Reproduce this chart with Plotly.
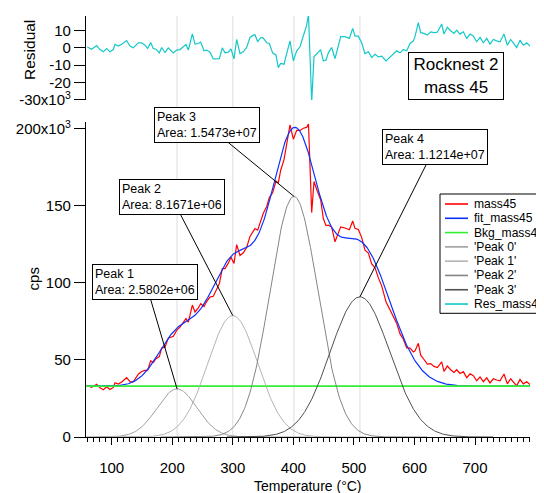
import numpy as np
import plotly.graph_objects as go

# ---------------- data (values in 10^3 cps) ----------------
res_temp = [59.8, 66.9, 75.2, 80.7, 86.2, 91.7, 97.2, 102.7, 105.5, 111.0, 116.5, 124.7, 130.2, 135.7,
            144.0, 149.5, 155.0, 159.4, 164.4, 168.7, 173.2, 178.7, 182.5, 188.0, 193.5, 199.0, 201.8,
            207.3, 212.8, 218.3, 222.7, 226.6, 233.2, 237.6, 243.1, 247.0, 252.5, 256.8, 262.3, 267.8,
            273.4, 277.8, 282.7, 287.1, 292.6, 297.0, 302.0, 306.4, 311.9, 317.4, 322.9, 328.4, 333.9,
            336.7, 341.1, 346.6, 350.4, 355.9, 360.3, 365.8, 371.4, 375.2, 379.1, 384.6, 389.0, 394.5,
            400.0, 405.5, 411.0, 416.5, 422.0, 425.0, 430.3, 434.1, 439.6, 445.1, 449.5, 453.9, 457.8,
            463.3, 468.8, 474.3, 478.2, 485.3, 492.5, 498.0, 501.8, 507.3, 512.8, 518.3, 523.9, 529.4,
            534.9, 540.4, 545.9, 553.0, 559.6, 565.1, 570.6, 576.2, 581.7, 587.2, 592.7, 598.2, 600.9,
            606.4, 610.3, 615.8, 621.3, 626.8, 632.3, 637.8, 645.0, 648.8, 654.3, 659.8, 665.3, 669.7,
            675.2, 680.7, 686.3, 691.8, 697.3, 702.8, 708.3, 713.8, 719.3, 724.8, 730.3, 735.8, 741.3,
            747.9, 753.4, 758.9, 763.3, 768.8, 774.3, 779.8, 785.3, 790.8]
res_val = [0.5, -0.8, 1.3, -1.0, -2.3, -0.4, -2.3, -1.0, 2.0, 1.0, 2.0, 4.2, 1.0, 0.0,
           2.9, 2.9, 1.5, -0.4, 3.0, -0.4, -0.8, -2.9, 0.2, -2.7, 0.0, -1.7, -2.9,
           -1.3, -1.0, 0.6, 1.9, -1.3, 8.0, 2.1, 2.5, 3.3, -1.7, -1.3, -2.5, -6.4,
           -6.5, -6.2, 0.0, -2.9, -2.5, -0.6, -6.4, 4.8, -3.3, -2.3, 0.2, 6.0, 7.3,
           7.5, 3.5, 6.0, 5.6, 2.9, 2.5, -2.9, -4.2, -11.4, -9.0, -9.4, -3.3, 4.0,
           -7.5, -1.7, 0.6, 6.4, 13.0, 19.0, -31.0, -5.2, -3.3, -1.0, -7.5, -7.1, -2.9,
           0.2, -6.2, 1.5, 6.4, 6.4, 5.4, 11.2, 6.7, 6.7, 2.9, -3.3, -2.3, -5.6,
           -3.7, -5.2, -4.8, -7.5, -5.2, -3.7, -1.7, -2.9, -1.0, -1.7, 2.5, 4.0, 6.4,
           14.5, 8.7, 8.3, 7.3, 9.2, 8.7, 9.0, 13.7, 7.9, 11.8, 9.8, 8.3, 10.2,
           7.9, 9.2, 5.4, 7.9, 6.7, 3.5, 6.0, 2.9, 5.4, 2.1, 4.8, 4.0, 3.5,
           7.9, 1.5, 4.8, 2.5, 0.2, 4.4, 1.5, 2.9, 1.0]

baseline = 33.0
peak_legend = ["'Peak 0'", "'Peak 1'", "'Peak 2'", "'Peak 3'"]
peak_labels = ["Peak 1", "Peak 2", "Peak 3", "Peak 4"]
peak_areas = ["2.5802e+06", "8.1671e+06", "1.5473e+07", "1.1214e+07"]
peak_centers = [208.0, 300.0, 401.0, 510.0]
peak_heights = [31.2, 78.8, 156.2, 91.0]
peak_sigmas = [33.0, 41.3, 39.5, 49.2]

x_range = [57.6, 790.8]
main_y_ticks = [0, 50, 100, 150, 200]
main_y_text = ["0", "50", "100", "150", "200x10<sup>3</sup>"]
res_y_ticks = [10, 0, -10, -20, -30]
res_y_text = ["10", "0", "-10", "-20", "-30x10<sup>3</sup>"]

# ---------------- styles ----------------
FONT = "Liberation Sans, Arial, sans-serif"
c_data, c_fit, c_bkg, c_res = "#ff0000", "#0a32ff", "#33ee33", "#12c8c8"
peak_colors = ["#a0a0a0", "#b4b4b4", "#858585", "#505050"]


def gauss(t, c, h, s):
    t = np.asarray(t, dtype=float)
    return h * np.exp(-(t - c) ** 2 / (2 * s ** 2))


def fit_model(t):
    t = np.asarray(t, dtype=float)
    tot = np.full_like(t, baseline)
    for c, h, s in zip(peak_centers, peak_heights, peak_sigmas):
        tot = tot + gauss(t, c, h, s)
    return tot


fit_t = np.linspace(x_range[0], x_range[1], 600)
mass45 = fit_model(res_temp) + np.array(res_val)

fig = go.Figure()
fig.add_trace(go.Scatter(x=res_temp, y=mass45, mode="lines", name="mass45",
                         line=dict(color=c_data, width=1.2), showlegend=False))
fig.add_trace(go.Scatter(x=fit_t, y=fit_model(fit_t), mode="lines", name="fit_mass45",
                         line=dict(color=c_fit, width=1.2), showlegend=False))
fig.add_trace(go.Scatter(x=x_range, y=[baseline, baseline], mode="lines", name="Bkg_mass45",
                         line=dict(color=c_bkg, width=1.6), showlegend=False))
for nm, c, h, s, col in zip(peak_legend, peak_centers, peak_heights, peak_sigmas, peak_colors):
    t = np.linspace(max(x_range[0], c - 220), min(x_range[1], c + 220), 300)
    fig.add_trace(go.Scatter(x=t, y=gauss(t, c, h, s), mode="lines", name=nm,
                             line=dict(color=col, width=1), showlegend=False))
fig.add_trace(go.Scatter(x=res_temp, y=res_val, mode="lines", name="Res_mass45",
                         line=dict(color=c_res, width=1.2), showlegend=False,
                         xaxis="x2", yaxis="y2"))

# ---------------- layout helpers ----------------
# the page body has an 8px margin, so the figure is drawn 8px right/down
OFF = 8
W, H = 544 - OFF, 493 - OFF
PL, PR, PT, PB = 86, 530, 16, 437          # plot area in reference (page) pixels
ML, MT = PL - OFF, PT - OFF
MR, MB = W - (PR - OFF), H - (PB - OFF)
PW, PH = PR - PL, PB - PT


def px(xp):
    return (xp - PL) / PW


def py(yp):
    return (PB - yp) / PH


shapes = []
for c in peak_centers:
    shapes.append(dict(type="line", xref="x", yref="paper", x0=c, x1=c, y0=0, y1=1,
                       line=dict(color="#dcdcdc", width=1), layer="below"))

annotations = []
# peak annotations
offsets = [(-31.7, -107.3), (-61.2, -118.3), (-87.1, -71.4), (75.3, -150.3)]
for lab, area, c, h, (ax, ay) in zip(peak_labels, peak_areas, peak_centers, peak_heights, offsets):
    annotations.append(dict(x=c, y=h, xref="x", yref="y", text=f"{lab}<br>Area: {area}",
                            showarrow=True, arrowhead=0, arrowwidth=1, arrowcolor="black",
                            ax=ax, ay=ay, standoff=0, align="left",
                            font=dict(family=FONT, size=12.5, color="black"),
                            bgcolor="white", bordercolor="black", borderwidth=1, borderpad=2,
                            height=30))
# sample box
annotations.append(dict(x=px(455.7), y=py(75.8), xref="paper", yref="paper",
                        text="Rocknest 2<br>mass 45", showarrow=False, align="center",
                        xanchor="center", yanchor="middle",
                        font=dict(family=FONT, size=17, color="black"),
                        bgcolor="white", bordercolor="black", borderwidth=1, borderpad=2,
                        width=90, height=42))
# axis titles
annotations.append(dict(x=px(29), y=py(50), xref="paper", yref="paper", text="Residual",
                        textangle=-90, showarrow=False, xanchor="center", yanchor="middle",
                        font=dict(family=FONT, size=15.5, color="black")))
annotations.append(dict(x=px(33.7), y=py(278.7), xref="paper", yref="paper", text="cps",
                        textangle=-90, showarrow=False, xanchor="center", yanchor="middle",
                        font=dict(family=FONT, size=15, color="black")))
annotations.append(dict(x=px(308), y=py(486), xref="paper", yref="paper", text="Temperature (°C)",
                        showarrow=False, xanchor="center", yanchor="middle",
                        font=dict(family=FONT, size=14, color="black")))

# manual legend (compact, Igor style)
leg_items = [("mass45", c_data), ("fit_mass45", c_fit), ("Bkg_mass45", c_bkg)] + \
            list(zip(peak_legend, peak_colors)) + [("Res_mass45", c_res)]
leg_left, leg_top, leg_bottom, leg_step, leg_first = 440, 194, 313.3, 14.29, 204
shapes.append(dict(type="rect", xref="paper", yref="paper", x0=px(leg_left), x1=px(560),
                   y0=py(leg_bottom), y1=py(leg_top), line=dict(color="black", width=1),
                   fillcolor="white", layer="above"))
for i, (nm, col) in enumerate(leg_items):
    yy = leg_first + i * leg_step
    shapes.append(dict(type="line", xref="paper", yref="paper", x0=px(445), x1=px(468),
                       y0=py(yy), y1=py(yy), line=dict(color=col, width=1.6), layer="above"))
    annotations.append(dict(x=px(471.5), y=py(yy), xref="paper", yref="paper", text=nm,
                            showarrow=False, xanchor="left", yanchor="middle",
                            font=dict(family=FONT, size=12.1, color="black")))

axis_common = dict(showgrid=False, zeroline=False, showline=True, linecolor="black", linewidth=1.2,
                   ticks="outside", tickcolor="black", tickwidth=1,
                   tickfont=dict(family=FONT, size=15, color="black"))

fig.update_layout(
    width=W, height=H,
    margin=dict(l=ML, r=MR, t=MT, b=MB, autoexpand=False),
    paper_bgcolor="white", plot_bgcolor="white",
    font=dict(family=FONT, color="black"),
    showlegend=False,
    xaxis=dict(domain=[0, 1], range=x_range, anchor="y", tickmode="linear", tick0=0, dtick=100,
               ticklen=7, ticklabelstandoff=10,
               minor=dict(dtick=10, tick0=0, ticks="outside", ticklen=4, tickcolor="black",
                          tickwidth=1, showgrid=False),
               **axis_common),
    yaxis=dict(domain=[0, 0.749], range=[0, 204.7], anchor="x", tickmode="array",
               tickvals=main_y_ticks, ticktext=main_y_text, ticklen=11, **axis_common),
    xaxis2=dict(domain=[0, 1], range=x_range, anchor="y2", visible=False),
    yaxis2=dict(domain=[0.8005, 1], range=[-30, 18.3], anchor="x2", tickmode="array",
                tickvals=res_y_ticks, ticktext=res_y_text, ticklen=11, **axis_common),
    shapes=shapes,
    annotations=annotations,
)

fig.write_html("out.html")
